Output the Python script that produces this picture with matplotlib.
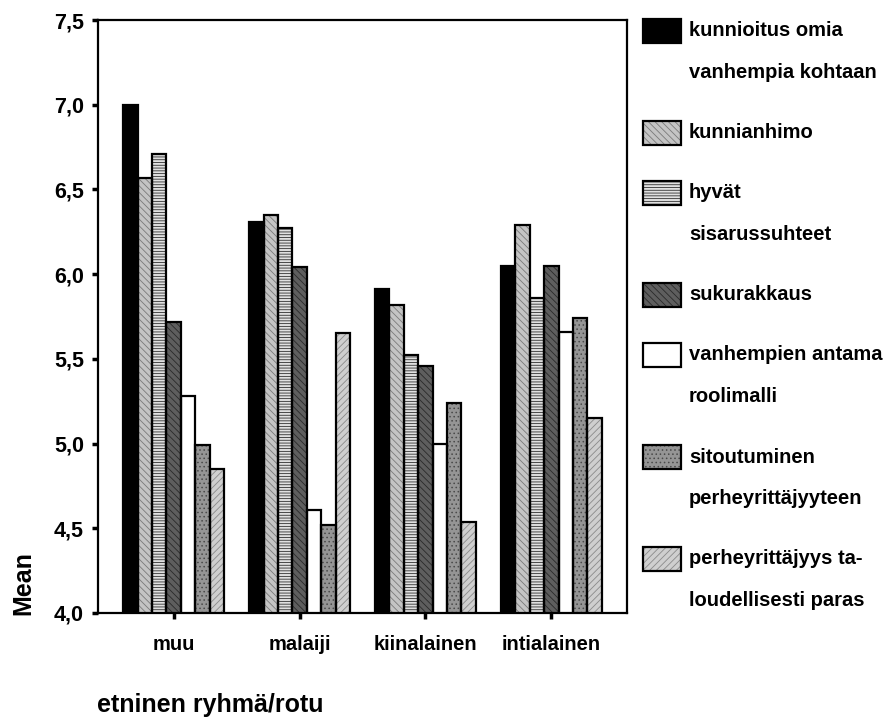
import numpy as np
import matplotlib
matplotlib.use("Agg")
import matplotlib.pyplot as plt
from matplotlib.patches import Rectangle

# data
groups = ["muu", "malaiji", "kiinalainen", "intialainen"]
series = [
    "kunnioitus omia\nvanhempia kohtaan",
    "kunnianhimo",
    "hyvät\nsisarussuhteet",
    "sukurakkaus",
    "vanhempien antama\nroolimalli",
    "sitoutuminen\nperheyrittäjyyteen",
    "perheyrittäjyys ta-\nloudellisesti paras",
]
kunnioitus = [7.00, 6.31, 5.91, 6.05]
kunnianhimo = [6.57, 6.35, 5.82, 6.29]
sisarussuhteet = [6.71, 6.27, 5.52, 5.86]
sukurakkaus = [5.72, 6.04, 5.46, 6.05]
roolimalli = [5.28, 4.61, 5.00, 5.66]
sitoutuminen = [4.99, 4.52, 5.24, 5.74]
taloudellisesti = [4.85, 5.65, 4.54, 5.15]
values = [kunnioitus, kunnianhimo, sisarussuhteet, sukurakkaus,
          roolimalli, sitoutuminen, taloudellisesti]
yticks = [4.0, 4.5, 5.0, 5.5, 6.0, 6.5, 7.0, 7.5]

# fill colour, hatch, hatch colour for each series
styles = [
    ("black", None, "black"),
    ("#c4c4c4", "\\\\\\\\\\", "#7a7a7a"),
    ("#e0e0e0", "------", "#303030"),
    ("#5e5e5e", "\\\\\\\\\\", "#2a2a2a"),
    ("white", None, "white"),
    ("#959595", "....", "#4a4a4a"),
    ("#cfcfcf", "/////", "#8a8a8a"),
]

plt.rcParams["font.family"] = ["Liberation Sans", "DejaVu Sans"]
plt.rcParams["font.weight"] = "bold"
plt.rcParams["hatch.linewidth"] = 0.6

W, H = 891, 718
fig = plt.figure(figsize=(W / 100, H / 100), dpi=100)
ax = fig.add_axes([98 / W, 1 - 613 / H, (627 - 98) / W, (613 - 20) / H])

x = np.arange(len(groups))
n = len(series)
bw = 0.8 / n
for i, vals in enumerate(values):
    fc, hatch, hc = styles[i]
    pos = x - 0.4 + bw * (i + 0.5)
    ax.bar(pos, vals, bw, color=fc, edgecolor=hc, hatch=hatch, linewidth=0, zorder=2)
    ax.bar(pos, vals, bw, fill=False, edgecolor="black", linewidth=1.6, zorder=3)

ax.set_xlim(-0.6, 3.6)
ax.set_ylim(4.0, 7.5)
ax.set_yticks(yticks)
ax.set_yticklabels([f"{v:.1f}".replace(".", ",") for v in yticks])
ax.set_xticks(x)
ax.set_xticklabels(groups)
ax.tick_params(axis="both", length=4, width=2.5, direction="out")
ax.tick_params(axis="y", pad=6, labelsize=15.5)
ax.tick_params(axis="x", pad=12, labelsize=14.5)
for s in ax.spines.values():
    s.set_linewidth(1.6)

fig.text(23 / W, 1 - 583 / H, "Mean", rotation=90, ha="center", va="center",
         fontsize=18, fontweight="bold")
fig.text(97 / W, 1 - 705 / H, "etninen ryhmä/rotu", ha="left", va="center",
         fontsize=18, fontweight="bold")

# legend drawn to the right of the plot, patch next to first line of label
L, G = 42, 60
y = 31
for i, lab in enumerate(series):
    fc, hatch, hc = styles[i]
    lines = lab.split("\n")
    fig.add_artist(Rectangle((643 / W, 1 - (y + 12) / H), 38 / W, 24 / H,
                             transform=fig.transFigure, facecolor=fc,
                             edgecolor=hc, hatch=hatch, linewidth=0))
    fig.add_artist(Rectangle((643 / W, 1 - (y + 12) / H), 38 / W, 24 / H,
                             transform=fig.transFigure, fill=False,
                             edgecolor="black", linewidth=1.6))
    for j, line in enumerate(lines):
        fig.text(689 / W, 1 - (y + j * L) / H, line, ha="left", va="center",
                 fontsize=14.5, fontweight="bold")
    y += (len(lines) - 1) * L + G

fig.savefig("out.png", dpi=100)
